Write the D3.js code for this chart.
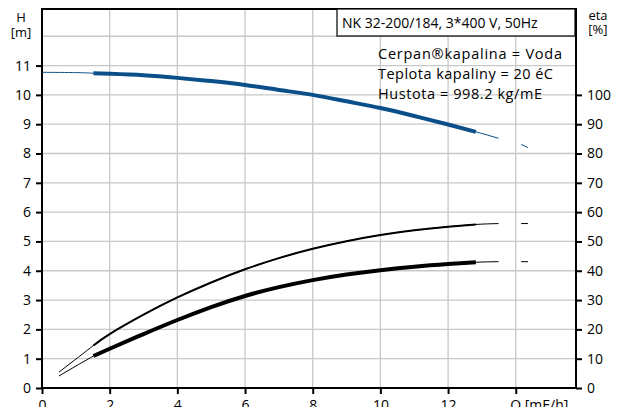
<!DOCTYPE html>
<html>
<head>
<meta charset="utf-8">
<script src="https://cdn.jsdelivr.net/npm/d3@7"></script>
<style>
  body { margin: 0; background: #fff; }
  svg { display: block; font-family: "Open Sans", sans-serif; }
</style>
</head>
<body>
<svg width="630" height="407"></svg>
<script>
// values
const headQ = [0, 1, 1.52, 2, 3, 4, 5, 6, 7, 8, 9, 10, 11, 12, 12.82, 13.49];
const headH = [10.77, 10.76, 10.74, 10.72, 10.67, 10.58, 10.47, 10.34, 10.17, 10.0, 9.78, 9.55, 9.28, 8.99, 8.74, 8.52];
const etaQ = [0.5, 1.52, 2, 3, 4, 5, 6, 7, 8, 9, 10, 11, 12, 12.82, 13.49];
const etaUpper = [5.4, 14.5, 18.4, 25.0, 30.9, 36.0, 40.5, 44.3, 47.5, 50.1, 52.2, 53.8, 55.0, 55.8, 56.1];
const etaLower = [4.1, 10.9, 13.4, 18.4, 23.2, 27.6, 31.4, 34.4, 36.8, 38.7, 40.2, 41.4, 42.3, 42.9, 43.1];
const dashQ = [14.16, 14.36];
const headDash = [8.31, 8.2];
const etaUpperDash = [56.1, 56.1];
const etaLowerDash = [43.1, 43.1];
const dutyRange = [1.52, 12.82];   // thick part of each curve

const xTicks = [0, 2, 4, 6, 8, 10, 12, 14];
const xTickLabels = ["0", "2", "4", "6", "8", "10", "12", "Q [mE/h]"];
const hTicks = d3.range(0, 12);
const etaTicks = d3.range(0, 101, 10);
const infoLines = ["Cerpan®kapalina = Voda", "Teplota kapaliny = 20 éC", "Hustota = 998.2 kg/mE"];
const infoWidths = [184, 175, 164];
const title = "NK 32-200/184, 3*400 V, 50Hz";

const plotL = 42, plotR = 576, plotT = 9, plotB = 388;
const svg = d3.select("svg");

const x = d3.scaleLinear().domain([0, 15.78]).range([plotL, plotR]);
const y = d3.scaleLinear().domain([0, 12.93]).range([plotB, plotT]);
const yEta = d3.scaleLinear().domain([0, 129.3]).range([plotB, plotT]);

// grid
const grid = svg.append("g").attr("stroke", "#c8c8c8").attr("stroke-width", 1.3);
grid.selectAll(".gx").data(d3.range(2, 16, 2)).enter().append("line")
  .attr("x1", d => x(d)).attr("x2", d => x(d)).attr("y1", plotT).attr("y2", plotB);
grid.selectAll(".gy").data(d3.range(1, 13)).enter().append("line")
  .attr("x1", plotL).attr("x2", plotR).attr("y1", d => y(d)).attr("y2", d => y(d));

// axes
const xAxis = d3.axisBottom(x).tickValues(xTicks).tickSize(6).tickFormat((d, i) => xTickLabels[i]);
const gx = svg.append("g").attr("transform", `translate(0,${plotB})`).call(xAxis);

const gy = svg.append("g").attr("transform", `translate(${plotL},0)`)
  .call(d3.axisLeft(y).tickValues(hTicks).tickSize(6));
const gr = svg.append("g").attr("transform", `translate(${plotR},0)`)
  .call(d3.axisRight(yEta).tickValues(etaTicks).tickSize(6));

[gx, gy, gr].forEach(g => {
  g.select(".domain").remove();
  g.selectAll(".tick line").attr("stroke", "#000").attr("stroke-width", 2);
  g.selectAll(".tick text").attr("font-size", 14).attr("fill", "#000")
    .attr("font-family", "Open Sans, sans-serif");
});
gy.selectAll(".tick text").attr("x", -11);
gr.selectAll(".tick text").attr("x", 11);
gx.selectAll(".tick text").attr("y", 12);
gx.selectAll(".tick text").filter(d => d === 14).attr("text-anchor", "start").attr("dx", "-6");

// frame
svg.append("path")
  .attr("d", `M${plotL},${plotB}V${plotT}H${plotR}V${plotB}Z`)
  .attr("fill", "none").attr("stroke", "#000").attr("stroke-width", 2);

// curves
function drawCurve(qs, vs, scale, color, thick) {
  const pts = qs.map((q, i) => [q, vs[i]]);
  const line = d3.line().x(d => x(d[0])).y(d => scale(d[1])).curve(d3.curveNatural);
  svg.append("path").attr("d", line(pts)).attr("fill", "none")
    .attr("stroke", color).attr("stroke-width", 1);
  const duty = pts.filter(d => d[0] >= dutyRange[0] && d[0] <= dutyRange[1]);
  svg.append("path").attr("d", line(duty)).attr("fill", "none")
    .attr("stroke", color).attr("stroke-width", thick);
}
function drawDash(vs, scale, color) {
  svg.append("line")
    .attr("x1", x(dashQ[0])).attr("x2", x(dashQ[1]))
    .attr("y1", scale(vs[0])).attr("y2", scale(vs[1]))
    .attr("stroke", color).attr("stroke-width", 1);
}
const blue = "#0b4f8a";
drawCurve(headQ, headH, y, blue, 4);
drawCurve(etaQ, etaUpper, yEta, "#000", 2);
drawCurve(etaQ, etaLower, yEta, "#000", 4);
drawDash(headDash, y, blue);
drawDash(etaUpperDash, yEta, "#000");
drawDash(etaLowerDash, yEta, "#000");

// axis titles
svg.append("text").attr("x", 21).attr("y", 22).attr("text-anchor", "middle")
  .attr("font-size", 13).text("H");
svg.append("text").attr("x", 21).attr("y", 37).attr("text-anchor", "middle")
  .attr("font-size", 13).text("[m]");
svg.append("text").attr("x", 598).attr("y", 20).attr("text-anchor", "middle")
  .attr("font-size", 13).text("eta");
svg.append("text").attr("x", 598).attr("y", 34).attr("text-anchor", "middle")
  .attr("font-size", 13).text("[%]");

// title box
svg.append("rect").attr("x", 337).attr("y", 9).attr("width", 238).attr("height", 27)
  .attr("fill", "#fff").attr("stroke", "#000").attr("stroke-width", 1.2);
svg.append("text").attr("x", 342).attr("y", 28).attr("font-size", 14).text(title);

// fluid info
svg.selectAll(".info").data(infoLines).enter().append("text")
  .attr("x", 378).attr("y", (d, i) => 59 + i * 20)
  .attr("font-size", 14.5)
  .attr("textLength", (d, i) => infoWidths[i]).attr("lengthAdjust", "spacing")
  .text(d => d);
</script>
</body>
</html>
